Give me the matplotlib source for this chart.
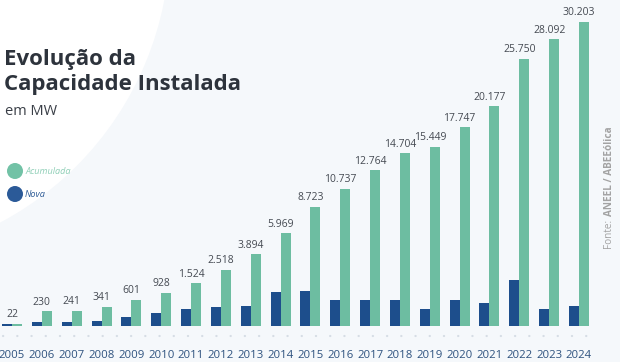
# Evolucao da capacidade instalada (eolica) - bar chart
import numpy as np
import matplotlib
matplotlib.use("Agg")
import matplotlib.pyplot as plt
from matplotlib.patches import Circle
from matplotlib.lines import Line2D

plt.rcParams['font.family'] = ['Open Sans', 'DejaVu Sans']

# Data (MW)
anos = [2005, 2006, 2007, 2008, 2009, 2010, 2011, 2012, 2013, 2014,
        2015, 2016, 2017, 2018, 2019, 2020, 2021, 2022, 2023, 2024]
acumulada = [22, 230, 241, 341, 601, 928, 1524, 2518, 3894, 5969,
             8723, 10737, 12764, 14704, 15449, 17747, 20177, 25750, 28092, 30203]
# nova capacity has no labels
nova = [22, 40, 40, 52, 115, 185, 275, 350, 380, 980,
        1035, 590, 590, 590, 275, 590, 475, 1760, 290, 360]

cor_acum = '#6dbda1'
cor_nova = '#1d4e8c'


# The chart does not use a linear axis: small values are stretched.
def fwd(v):
    v = np.clip(np.asarray(v, dtype=float), -99, None)
    return 0.008 * v + 11 * np.log1p(v / 100)


_grid = np.linspace(-99, 60000, 30001)


def inv(h):
    return np.interp(h, fwd(_grid), _grid)


fig = plt.figure(figsize=(6.2, 3.62), dpi=100, facecolor='#f5f8fb')

# background / decoration layer in pixel coordinates
bg = fig.add_axes([0, 0, 1, 1], zorder=0)
bg.set_xlim(0, 620)
bg.set_ylim(362, 0)
bg.axis('off')
bg.add_patch(Circle((-150, -60), 320, color='white', lw=0))

# main chart
ax = fig.add_axes([0, 36 / 362, 1, 326 / 362], zorder=1)
ax.patch.set_alpha(0)
ax.set_yscale('function', functions=(fwd, inv))
ax.set_ylim(0, inv(326))

x = np.arange(len(anos))
w = 0.335
ax.bar(x - w / 2, nova, w, color=cor_nova, lw=0)
ax.bar(x + w / 2, acumulada, w, color=cor_acum, lw=0)

for xi, v in zip(x, acumulada):
    ax.annotate(f"{v:,}".replace(",", "."), (xi, v), xytext=(0, 2.5),
                textcoords='offset points', ha='center', va='bottom',
                fontsize=7.5, color='#454a52')

ax.set_xlim(-12 / 29.84, 19 + 41 / 29.84)
ax.set_xticks(x, [str(a) for a in anos])
ax.tick_params(axis='x', length=0, pad=17, labelsize=8.2, labelcolor='#2e527f')
ax.set_yticks([])
for s in ax.spines.values():
    s.set_visible(False)

# dotted baseline
fig.add_artist(Line2D([3 / 620, 592 / 620], [26 / 362, 26 / 362],
                      color='#d6dde5', lw=1.6, linestyle=(0, (0.1, 6.3)),
                      dash_capstyle='round'))

# title
bg.text(4, 65, "Evolução da", fontsize=16, weight='bold', color='#2d333c')
bg.text(4, 90, "Capacidade Instalada", fontsize=16, weight='bold', color='#2d333c')
bg.text(5, 115, "em MW", fontsize=10.5, color='#3a3f47')

# legend
bg.add_patch(Circle((15, 171), 8, color='#72c2a6', lw=0))
bg.add_patch(Circle((15, 194), 8, color='#2b5a98', lw=0))
bg.text(26, 172, "Acumulada", fontsize=6.6, style='italic', color='#8fcfb7', va='center')
bg.text(25, 194.5, "Nova", fontsize=6.6, style='italic', color='#2d5b96', va='center')

# source, read bottom to top
t1 = bg.text(609, 248, "Fonte:", rotation=90, fontsize=7.2, color='#a3a3a3',
             ha='center', va='bottom')
bg.annotate("ANEEL / ABEEólica", xy=(0.5, 1), xycoords=t1, xytext=(0, 2),
            textcoords='offset points', rotation=90, fontsize=7.2, weight='bold',
            color='#a3a3a3', ha='center', va='bottom')

fig.savefig('out.png', dpi=100, facecolor=fig.get_facecolor())
